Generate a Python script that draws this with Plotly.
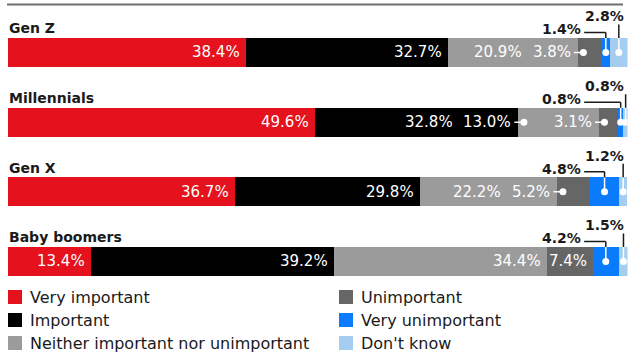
import plotly.graph_objects as go

# ---------------- data ----------------
generations = ["Gen Z", "Millennials", "Gen X", "Baby boomers"]
series_names = ["Very important", "Important", "Neither important nor unimportant",
                "Unimportant", "Very unimportant", "Don't know"]
very_important = [38.4, 49.6, 36.7, 13.4]
important = [32.7, 32.8, 29.8, 39.2]
neither = [20.9, 13.0, 22.2, 34.4]
unimportant = [3.8, 3.1, 5.2, 7.4]
very_unimportant = [1.4, 0.8, 4.8, 4.2]
dont_know = [2.8, 0.8, 1.2, 1.5]
series_values = [very_important, important, neither, unimportant, very_unimportant, dont_know]

# label placement per generation: in = inside bar, lead = white leader, up1/up2 = above
label_modes = [
    ["in", "in", "in", "lead", "up1", "up2"],
    ["in", "in", "lead", "lead", "up1", "up2"],
    ["in", "in", "in", "lead", "up1", "up2"],
    ["in", "in", "in", "in", "up1", "up2"],
]

# ---------------- style ----------------
colors = ["#e5111c", "#000000", "#9b9b9b", "#666666", "#0a7bfd", "#a4cdef"]
W, H = 628, 352
PX0, PX1 = 7.5, 627.5
PPU = (PX1 - PX0) / 100.0
FONT = "DejaVu Sans"
DARK = "#1a1a1a"

REG = {'.': .318, '%': .95}
BOLD = {'.': .38, '%': 1.002}


def tw(s, size, bold=False):
    t = BOLD if bold else REG
    d = .696 if bold else .636
    return sum(t.get(c, d) for c in s) * size


fig = go.Figure()
ys = list(range(len(generations)))
for name, vals, col in zip(series_names, series_values, colors):
    fig.add_trace(go.Bar(
        y=ys, x=vals, orientation="h", name=name, width=0.416,
        marker=dict(color=col, line=dict(width=0)),
        hoverinfo="skip", showlegend=False))

ann = []
shapes = []
VS = 15      # value font size
AS = 14      # above label font size


def line(xa, x0, x1, ya, y0, y1, color, width=1.5):
    shapes.append(dict(type="line", xref="x", yref="y", xsizemode="pixel", ysizemode="pixel",
                       xanchor=xa, yanchor=ya, x0=x0, x1=x1, y0=y0, y1=y1,
                       line=dict(color=color, width=width), layer="above"))


def dot(xa, xc, ya, r=3.5):
    shapes.append(dict(type="circle", xref="x", yref="y", xsizemode="pixel", ysizemode="pixel",
                       xanchor=xa, yanchor=ya, x0=xc - r, x1=xc + r, y0=-r, y1=r,
                       fillcolor="white", line=dict(width=0), layer="above"))


for i, g in enumerate(generations):
    ann.append(dict(x=0, y=i, xref="x", yref="y", text=g, showarrow=False,
                    xanchor="left", yanchor="middle", yshift=24, borderpad=0,
                    font=dict(family=FONT, size=14, color=DARK, weight="bold")))
    vals = [s[i] for s in series_values]
    starts, cum = [], 0.0
    for v in vals:
        starts.append(cum)
        cum += v
    texts = [f"{v:.1f}%" for v in vals]
    modes = label_modes[i]
    for k, v in enumerate(vals):
        m = modes[k]
        s, e = starts[k], starts[k] + v
        if m == "in":
            if k + 1 < len(vals) and modes[k + 1] == "lead":
                xa, xs = e, -6 - tw(texts[k + 1], VS) - 11
            else:
                xa, xs = e, -5
            ann.append(dict(x=xa, y=i, xref="x", yref="y", text=texts[k], showarrow=False,
                            xanchor="right", yanchor="middle", xshift=xs, borderpad=0,
                            font=dict(family=FONT, size=VS, color="white")))
        elif m == "lead":
            ann.append(dict(x=s, y=i, xref="x", yref="y", text=texts[k], showarrow=False,
                            xanchor="right", yanchor="middle", xshift=-6, borderpad=0,
                            font=dict(family=FONT, size=VS, color="white")))
            line(s, -4, 5.5, i, 0, 0, "white")
            dot(s, 5.5, i)
        elif m == "up2":
            c = s + v / 2
            ann.append(dict(x=100, y=i, xref="x", yref="y", text=texts[k], showarrow=False,
                            xanchor="right", yanchor="middle", xshift=-2.5, yshift=36,
                            borderpad=0,
                            font=dict(family=FONT, size=AS, color=DARK, weight="bold")))
            line(c, 0, 0, i, 0, 14.5, "white")
            line(c, 0, 0, i, 14.5, 28, DARK)
            dot(c, 0, i)
        elif m == "up1":
            c = s + v / 2
            far = texts[k + 1]
            far_left = (100 - s) * PPU - 2.5 - tw(far, AS, True) - 4
            xs = min(-2, far_left)
            ann.append(dict(x=s, y=i, xref="x", yref="y", text=texts[k], showarrow=False,
                            xanchor="right", yanchor="middle", xshift=xs, yshift=23,
                            borderpad=0,
                            font=dict(family=FONT, size=AS, color=DARK, weight="bold")))
            off = (s - c) * PPU + xs + 2
            line(c, 0, 0, i, 0, 14.5, "white")
            line(c, 0, 0, i, 14.5, 20, DARK)
            line(c, off, 0, i, 20, 20, DARK)
            dot(c, 0, i)

# top rule
shapes.append(dict(type="line", xref="paper", yref="paper", x0=7 / W, x1=623 / W,
                   y0=1 - 4.5 / H, y1=1 - 4.5 / H, line=dict(color="#6e6e6e", width=2)))

# legend (two columns)
leg_cols = [8, 339]
leg_rows = [297, 320, 343]
for n, (name, col) in enumerate(zip(series_names, colors)):
    cx = leg_cols[n // 3]
    cy = leg_rows[n % 3]
    shapes.append(dict(type="rect", xref="paper", yref="paper",
                       x0=cx / W, x1=(cx + 14) / W, y0=1 - (cy + 7) / H, y1=1 - (cy - 7) / H,
                       fillcolor=col, line=dict(width=0)))
    ann.append(dict(x=(cx + 21) / W, y=1 - cy / H, xref="paper", yref="paper", text=name,
                    showarrow=False, xanchor="left", yanchor="middle", borderpad=0,
                    font=dict(family=FONT, size=16, color=DARK)))

fig.update_layout(
    width=W, height=H, margin=dict(l=0, r=0, t=0, b=0),
    paper_bgcolor="white", plot_bgcolor="white",
    barmode="stack", annotations=ann, shapes=shapes,
    xaxis=dict(range=[0, 100], domain=[PX0 / W, PX1 / W], visible=False, fixedrange=True),
    yaxis=dict(range=[3.5, -0.75], domain=[1 - 296.3 / H, 1 - 0.25 / H], visible=False,
               fixedrange=True),
    showlegend=False,
)

fig.write_html("out.html", config={"displayModeBar": False},
               post_script="document.body.style.margin='0';document.body.style.padding='0';"
                           "document.body.style.overflow='hidden';")
